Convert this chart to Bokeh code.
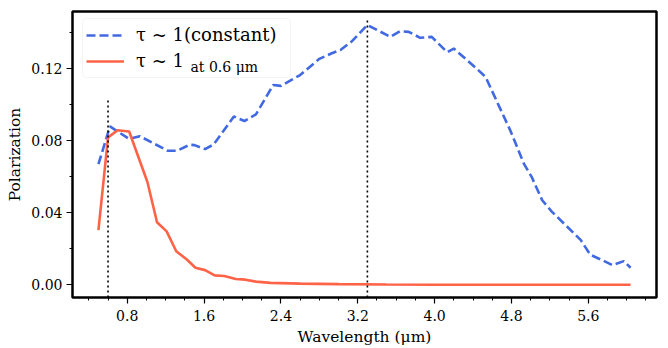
from bokeh.plotting import figure
from bokeh.models import Legend, LegendItem, Label, BoxAnnotation, SingleIntervalTicker, PrintfTickFormatter
from bokeh.embed import file_html
from bokeh.resources import INLINE

# Data
wl_const = [0.50, 0.62, 0.82, 0.93, 1.22, 1.32, 1.45, 1.50, 1.61, 1.70, 1.91, 2.02, 2.14,
            2.32, 2.40, 2.60, 2.80, 2.93, 3.02, 3.14, 3.30, 3.54, 3.64, 3.73, 3.85, 3.97,
            4.13, 4.20, 4.44, 4.53, 4.79, 4.93, 5.01, 5.12, 5.22, 5.52, 5.62, 5.73, 5.85,
            5.97, 6.04]
pol_const = [0.067, 0.088, 0.081, 0.0826, 0.0745, 0.0745, 0.0778, 0.0776, 0.0754, 0.0780,
             0.0935, 0.0910, 0.0947, 0.1110, 0.1105, 0.1165, 0.1255, 0.1286, 0.1304, 0.1353,
             0.1443, 0.1377, 0.1408, 0.1405, 0.1372, 0.1377, 0.1292, 0.1312, 0.1200, 0.1155,
             0.0855, 0.0672, 0.0600, 0.0470, 0.0407, 0.0250, 0.0168, 0.0141, 0.0110, 0.0132,
             0.0095]

wl_06 = [0.50, 0.60, 0.70, 0.82, 1.01, 1.11, 1.21, 1.31, 1.42, 1.51, 1.61, 1.71, 1.81,
         1.93, 2.03, 2.14, 2.29, 2.60, 3.00, 3.50, 4.00, 5.00, 6.04]
pol_06 = [0.0304, 0.0819, 0.0859, 0.0852, 0.0571, 0.0348, 0.0297, 0.0187, 0.0141, 0.0095,
          0.0082, 0.0053, 0.0049, 0.0033, 0.0029, 0.0018, 0.0011, 0.0007, 0.0004, 0.0002,
          0.0001, 0.0001, 0.0001]

vline_x = [0.6, 3.3]
vline_top = [0.104, 0.148]

x_range = (0.23, 6.31)
y_range = (-0.007, 0.1518)

FONT = "DejaVu Serif"

p = figure(width=668, height=348, x_range=x_range, y_range=y_range,
           output_backend="svg", toolbar_location=None,
           min_border_left=72, min_border_right=12, min_border_top=11, min_border_bottom=48)
p.background_fill_color = "white"
p.border_fill_color = "white"
p.xgrid.visible = False
p.ygrid.visible = False
p.outline_line_color = "black"
p.outline_line_width = 2.5
p.outline_line_alpha = 1.0

r_blue = p.line(wl_const, pol_const, line_color="#4169E1", line_width=2.6, line_dash="9 4")
r_red = p.line(wl_06, pol_06, line_color="#FF6347", line_width=2.6)
p.segment(x0=vline_x, y0=[y_range[0]] * len(vline_x), x1=vline_x, y1=vline_top,
          line_color="black", line_width=1.6, line_dash="2 3")

p.xaxis.ticker = SingleIntervalTicker(interval=0.8, num_minor_ticks=4)
p.yaxis.ticker = SingleIntervalTicker(interval=0.04, num_minor_ticks=2)
p.xaxis.formatter = PrintfTickFormatter(format="%.1f")
p.yaxis.formatter = PrintfTickFormatter(format="%.2f")
p.xaxis.axis_label = "Wavelength (μm)"
p.yaxis.axis_label = "Polarization"

for ax in (p.xaxis, p.yaxis):
    ax.axis_line_color = None
    ax.major_tick_in = 0
    ax.major_tick_out = 6
    ax.minor_tick_in = 0
    ax.minor_tick_out = 3
    ax.major_tick_line_color = "black"
    ax.minor_tick_line_color = "black"
    ax.major_tick_line_width = 1.2
    ax.minor_tick_line_width = 1
    ax.major_label_text_font = FONT
    ax.major_label_text_font_size = "14px"
    ax.major_label_text_color = "black"
    ax.axis_label_text_font = FONT
    ax.axis_label_text_font_size = "15.5px"
    ax.axis_label_text_font_style = "normal"
    ax.axis_label_text_color = "black"
p.xaxis.major_label_standoff = 6
p.yaxis.major_label_standoff = 4
p.xaxis.axis_label_standoff = 4
p.yaxis.axis_label_standoff = 4

p.add_layout(BoxAnnotation(left=10, right=218, top=279, bottom=220,
                           left_units="screen", right_units="screen",
                           top_units="screen", bottom_units="screen",
                           fill_color="white", fill_alpha=0.8,
                           line_color="#d9d9d9", line_width=1, border_radius=4,
                           level="annotation"))

legend = Legend(items=[LegendItem(label="τ ~ 1(constant)", renderers=[r_blue]),
                       LegendItem(label="τ ~ 1", renderers=[r_red])],
                location=(14, 226),
                label_text_font=FONT, label_text_font_size="18px",
                label_text_color="black",
                glyph_width=38, glyph_height=20, label_height=20, label_standoff=12,
                spacing=5, padding=7, margin=0,
                border_line_color=None, background_fill_alpha=0)
p.add_layout(legend)

p.add_layout(Label(x=118, y=231, x_units="screen", y_units="screen", text="at 0.6 μm",
                   text_font=FONT, text_font_size="14px", level="overlay",
                   text_baseline="alphabetic", text_color="black"))

open("out.html", "w").write(file_html(p, INLINE))
